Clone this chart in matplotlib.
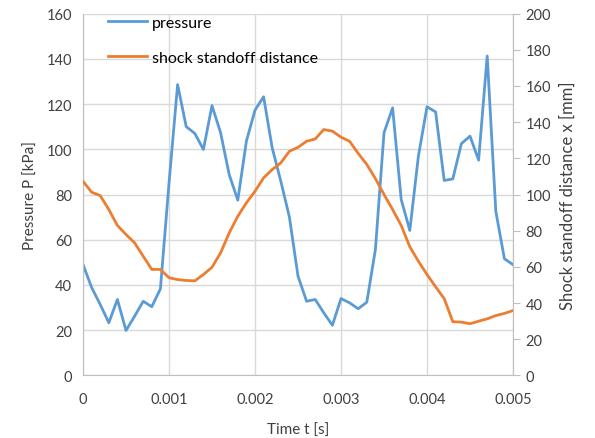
import numpy as np
import matplotlib
matplotlib.use("Agg")
import matplotlib.pyplot as plt

plt.rcParams['font.family'] = ['Lato', 'DejaVu Sans']

# time samples, every 0.0001 s
t = np.arange(51) * 0.0001

pressure = [49.1, 38.9, 31.4, 23.3, 33.6, 19.9, 26.2, 32.8, 30.4, 38.3,
            85.0, 128.6, 110.0, 107.0, 99.9, 119.3, 107.3, 88.8, 77.5, 103.6,
            117.3, 123.2, 100.6, 85.9, 70.0, 43.9, 32.8, 33.6, 27.7, 22.2,
            34.0, 32.1, 29.5, 32.4, 55.7, 107.3, 118.3, 77.8, 64.1, 97.0,
            118.8, 116.5, 86.2, 86.9, 102.5, 105.8, 95.2, 141.2, 72.6, 51.6,
            49.0]

standoff = [107.3, 101.3, 99.4, 91.7, 82.9, 77.9, 73.3, 65.9, 58.6, 58.6,
            54.0, 53.0, 52.5, 52.3, 55.8, 59.8, 67.8, 78.8, 88.0, 95.4,
            101.8, 109.2, 113.8, 117.5, 123.9, 126.1, 129.4, 130.7, 135.9, 135.0,
            131.7, 129.4, 122.7, 116.6, 108.8, 100.0, 91.7, 82.9, 71.1, 63.1,
            55.8, 49.0, 42.5, 29.7, 29.5, 28.6, 30.0, 31.3, 33.1, 34.3,
            35.9]

x_ticks = [0, 0.001, 0.002, 0.003, 0.004, 0.005]
x_labels = ["0", "0.001", "0.002", "0.003", "0.004", "0.005"]

blue = "#5B9BD5"
orange = "#ED7D31"
grid_c = "#D9D9D9"
text_c = "#404040"

fig = plt.figure(figsize=(5.95, 4.39), dpi=100)
ax = fig.add_axes([0.1395, 0.1424, 0.7227, 0.8245])
ax2 = ax.twinx()

l1, = ax.plot(t, pressure, color=blue, lw=2, label="pressure")
l2, = ax2.plot(t, standoff, color=orange, lw=2, label="shock standoff distance")

ax.set_xlim(0, 0.005)
ax.set_ylim(0, 160)
ax2.set_ylim(0, 200)
ax.set_xticks(x_ticks)
ax.set_xticklabels(x_labels)
ax.set_yticks(np.arange(0, 161, 20))
ax2.set_yticks(np.arange(0, 201, 20))

ax.grid(True, color=grid_c, lw=1)
ax.set_axisbelow(True)

for a in (ax, ax2):
    for s in a.spines.values():
        s.set_visible(False)
ax.spines['left'].set_visible(True)
ax.spines['left'].set_color("#BFBFBF")
ax.spines['bottom'].set_visible(True)
ax.spines['bottom'].set_color("#BFBFBF")
ax2.spines['right'].set_visible(True)
ax2.spines['right'].set_color("#BFBFBF")

ax.tick_params(axis='both', length=0, labelsize=10.5, labelcolor=text_c, pad=8)
ax.tick_params(axis='x', pad=12)
ax2.tick_params(axis='y', length=5, color="#BFBFBF", labelsize=10.5,
                labelcolor=text_c, pad=4)

ax.set_xlabel("Time t [s]", fontsize=11, color=text_c, labelpad=12)
ax.set_ylabel("Pressure P [kPa]", fontsize=11, color=text_c, labelpad=6)
ax2.set_ylabel("Shock standoff distance x [mm]", fontsize=12, color=text_c, labelpad=6)

ax.legend(handles=[l1, l2], loc="upper left", bbox_to_anchor=(0.058, 0.994),
          borderaxespad=0, borderpad=0, frameon=False, fontsize=11.5,
          labelspacing=1.3, handlelength=2.45, handletextpad=0.3,
          labelcolor="#000000")

fig.savefig("out.png", dpi=100)
